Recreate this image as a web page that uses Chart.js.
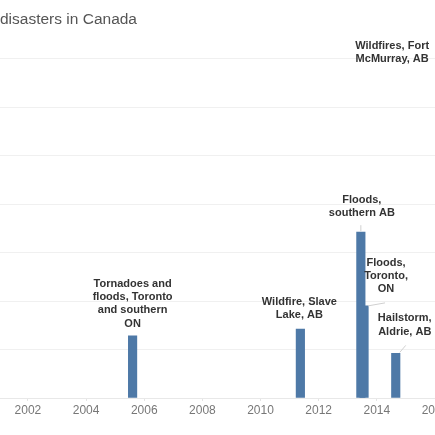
<!DOCTYPE html>
<html><head><meta charset="utf-8">
<script src="https://cdn.jsdelivr.net/npm/chart.js@4"></script>
<style>html,body{margin:0;padding:0;background:#fff;overflow:hidden}#wrap{position:relative;width:435px;height:435px}</style>
</head><body>
<div id="wrap"><canvas id="c"></canvas></div>
<script>
// ---- data ----
const chartTitle = 'disasters in Canada';
const eventNames = [
  ['Tornadoes and', 'floods, Toronto', 'and southern', 'ON'],
  ['Wildfire, Slave', 'Lake, AB'],
  ['Floods,', 'southern AB'],
  ['Floods,', 'Toronto,', 'ON'],
  ['Hailstorm,', 'Aldrie, AB'],
  ['Wildfires, Fort', 'McMurray, AB']
];
const eventDates = [2005.6, 2011.37, 2013.45, 2013.56, 2014.65, 2016.35];
const insuredLosses = [0.64, 0.71, 1.71, 0.95, 0.46, 3.58]; // billions
const xTickValues = [2002, 2004, 2006, 2008, 2010, 2012, 2014, 2016];
const xTickLabels = ['2002', '2004', '2006', '2008', '2010', '2012', '2014', '2016'];

// ---- annotation styling (offsets from bar top, px) ----
const FONT_FAMILY = 'Arial, sans-serif';
const labelStyle = [
  { dx: 0, dy: -52, leader: null },
  { dx: -1, dy: -27, leader: null },
  { dx: 1, dy: -32, leader: [0, -1, 0, -7] },
  { dx: 22, dy: -43, leader: [4, 0, 21, -3] },
  { dx: 9, dy: -35, leader: [4, -1, 10, -8] },
  { dx: -53, dy: -5, leader: null }
];

const annotationPlugin = {
  id: 'eventLabels',
  afterDatasetsDraw(chart) {
    const ctx = chart.ctx;
    const meta = chart.getDatasetMeta(0);
    ctx.save();
    ctx.font = 'bold 11px ' + FONT_FAMILY;
    ctx.fillStyle = '#333333';
    ctx.textAlign = 'center';
    ctx.textBaseline = 'middle';
    meta.data.forEach((bar, i) => {
      const st = labelStyle[i];
      const lines = eventNames[i];
      if (st.leader) {
        ctx.strokeStyle = '#d0d0d0';
        ctx.lineWidth = 1;
        ctx.beginPath();
        ctx.moveTo(bar.x + st.leader[0], bar.y + st.leader[1]);
        ctx.lineTo(bar.x + st.leader[2], bar.y + st.leader[3]);
        ctx.stroke();
      }
      lines.forEach((t, k) => {
        ctx.fillText(t, bar.x + st.dx, bar.y + st.dy + k * 13.2);
      });
    });
    ctx.restore();
  }
};

new Chart(document.getElementById('c'), {
  type: 'bar',
  data: {
    datasets: [{
      data: eventDates.map((d, i) => ({ x: d, y: insuredLosses[i] })),
      backgroundColor: '#4e79a7',
      barThickness: 8.5,
      grouped: false,
      borderWidth: 0
    }]
  },
  options: {
    responsive: true,
    maintainAspectRatio: false,
    animation: false,
    layout: { padding: 0 },
    plugins: {
      legend: { display: false },
      tooltip: { enabled: false },
      title: {
        display: true,
        text: chartTitle,
        align: 'start',
        color: '#555555',
        font: { family: FONT_FAMILY, size: 15.5, weight: 'normal' },
        padding: { top: 10, bottom: 30 }
      }
    },
    scales: {
      x: {
        type: 'linear',
        offset: false,
        min: 2001.04,
        max: 2016,
        afterBuildTicks(scale) { scale.ticks = xTickValues.map(v => ({ value: v })); },
        afterFit(scale) { scale.height = 37; scale.paddingLeft = 0; scale.paddingRight = 0; },
        ticks: {
          autoSkip: false,
          maxRotation: 0,
          padding: 2,
          color: '#777777',
          font: { family: FONT_FAMILY, size: 12 },
          callback(v) { const i = xTickValues.indexOf(v); return i >= 0 ? xTickLabels[i] : ''; }
        },
        grid: { offset: false, drawOnChartArea: false, tickLength: 3, color: '#e4e4e4' },
        border: { display: true, color: '#e8e8e8' }
      },
      y: {
        min: 0,
        max: 3.5,
        afterFit(scale) { scale.width = 0; },
        ticks: { display: false, stepSize: 0.5 },
        grid: { color: '#f0f0f0', drawTicks: false },
        border: { display: false }
      }
    }
  },
  plugins: [annotationPlugin]
});
</script>
</body></html>
